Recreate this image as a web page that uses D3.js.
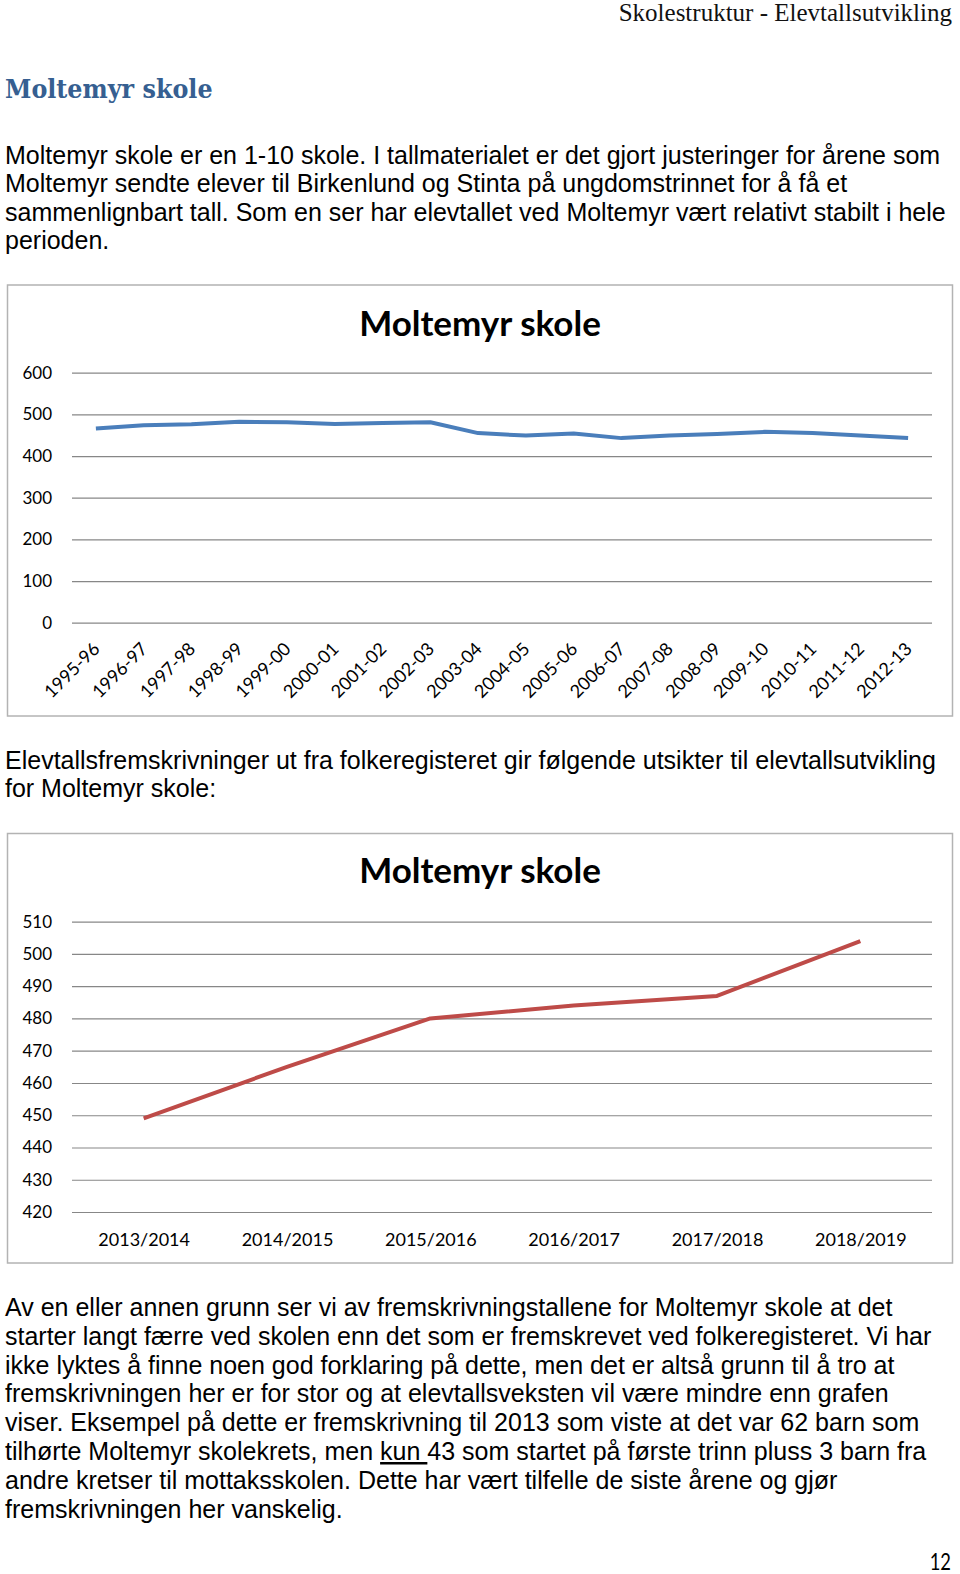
<!DOCTYPE html>
<html>
<head>
<meta charset="utf-8">
<script src="https://cdn.jsdelivr.net/npm/d3@7"></script>
<style>
  body { margin: 0; background: #fff; }
  svg { display: block; }
</style>
</head>
<body>
<div id="page"></div>
<script>
// Chart 1: historic pupil numbers
const seasons = ["1995-96", "1996-97", "1997-98", "1998-99", "1999-00", "2000-01", "2001-02", "2002-03", "2003-04",
    "2004-05", "2005-06", "2006-07", "2007-08", "2008-09", "2009-10", "2010-11", "2011-12", "2012-13"];
const pupils = [466, 474, 476, 482, 481, 477, 479, 481, 455, 449, 454, 443, 449, 453, 458, 455, 449, 443];
const yTicks1 = [0, 100, 200, 300, 400, 500, 600];

// Chart 2: projection from folkeregisteret
const years = ["2013/2014", "2014/2015", "2015/2016", "2016/2017", "2017/2018", "2018/2019"];
const projected = [449, 465, 480, 484, 487, 504];
const yTicks2 = [420, 430, 440, 450, 460, 470, 480, 490, 500, 510];

const para1 = [
    "Moltemyr skole er en 1-10 skole. I tallmaterialet er det gjort justeringer for årene som",
    "Moltemyr sendte elever til Birkenlund og Stinta på ungdomstrinnet for å få et",
    "sammenlignbart tall. Som en ser har elevtallet ved Moltemyr vært relativt stabilt i hele",
    "perioden."
];
const para2 = [
    "Elevtallsfremskrivninger ut fra folkeregisteret gir følgende utsikter til elevtallsutvikling",
    "for Moltemyr skole:"
];
const para3 = [
    "Av en eller annen grunn ser vi av fremskrivningstallene for Moltemyr skole at det",
    "starter langt færre ved skolen enn det som er fremskrevet ved folkeregisteret. Vi har",
    "ikke lyktes å finne noen god forklaring på dette, men det er altså grunn til å tro at",
    "fremskrivningen her er for stor og at elevtallsveksten vil være mindre enn grafen",
    "viser. Eksempel på dette er fremskrivning til 2013 som viste at det var 62 barn som",
    ["tilhørte Moltemyr skolekrets, men ", "kun ", "43 som startet på første trinn pluss 3 barn fra"],
    "andre kretser til mottaksskolen. Dette har vært tilfelle de siste årene og gjør",
    "fremskrivningen her vanskelig."
];

const W = 960, H = 1574;
const bodyFont = "'Liberation Sans', Arial, sans-serif";
const chartFont = "Lato, 'Open Sans', sans-serif";

const svg = d3.select("#page").append("svg")
    .attr("width", W)
    .attr("height", H);

// header + heading
svg.append("text")
    .attr("x", 952).attr("y", 20.5)
    .attr("text-anchor", "end")
    .style("font-family", "'Liberation Serif', 'Times New Roman', serif")
    .style("font-size", "25px")
    .style("fill", "#111")
    .text("Skolestruktur - Elevtallsutvikling");

svg.append("text")
    .attr("x", 5).attr("y", 97.5)
    .style("font-family", "'DejaVu Serif', serif")
    .style("font-stretch", "condensed")
    .style("font-weight", "bold")
    .style("font-size", "26.5px")
    .style("fill", "#365F91")
    .text("Moltemyr skole");

function paragraph(lines, y0, step) {
    lines.forEach((line, i) => {
        const t = svg.append("text")
            .attr("x", 5).attr("y", y0 + i * step)
            .style("font-family", bodyFont)
            .style("font-size", "25px")
            .style("fill", "#000");
        if (Array.isArray(line)) {
            line.forEach((part, j) => {
                const ts = t.append("tspan").text(part);
                if (j === 1) ts.attr("text-decoration", "underline");
            });
        } else {
            t.text(line);
        }
    });
}

paragraph(para1, 163.5, 28.5);
paragraph(para2, 768.5, 28.5);
paragraph(para3, 1316, 28.8);

// page number (narrow sans)
svg.append("text")
    .attr("transform", "translate(951,1570) scale(0.8,1)")
    .attr("text-anchor", "end")
    .style("font-family", chartFont)
    .style("font-size", "23px")
    .text("12");

// shared chart frame
function frame(top, bottom, titleY) {
    svg.append("rect")
        .attr("x", 7.5).attr("y", top)
        .attr("width", 945).attr("height", bottom - top)
        .attr("fill", "#fff")
        .attr("stroke", "#b3b3b3")
        .attr("stroke-width", 1.5);

    svg.append("text")
        .attr("x", 480).attr("y", titleY)
        .attr("text-anchor", "middle")
        .style("font-family", chartFont)
        .style("font-weight", "bold")
        .style("font-size", "35px")
        .style("fill", "#000")
        .text("Moltemyr skole");
}

function gridAxis(y, ticks) {
    const g = svg.append("g")
        .attr("transform", "translate(72,0)")
        .call(d3.axisLeft(y).tickValues(ticks).tickSize(-860).tickPadding(20).tickFormat(d3.format("d")));
    g.select(".domain").remove();
    g.selectAll(".tick line").attr("stroke", "#878787").attr("stroke-width", 1.2);
    g.selectAll(".tick text")
        .style("font-family", chartFont)
        .style("font-size", "17px")
        .style("fill", "#000");
    return g;
}

// ---- Chart 1 ----
frame(285, 716, 336);

const x1 = d3.scalePoint().domain(seasons).range([72, 932]).padding(0.5);
const y1 = d3.scaleLinear().domain([0, 600]).range([622.7, 372.7]);

gridAxis(y1, yTicks1);

svg.append("g")
    .selectAll("text")
    .data(seasons)
    .join("text")
    .attr("transform", d => `translate(${x1(d) + 5},650) rotate(-45)`)
    .attr("text-anchor", "end")
    .style("font-family", chartFont)
    .style("font-size", "18px")
    .style("fill", "#000")
    .text(d => d);

svg.append("path")
    .datum(pupils)
    .attr("fill", "none")
    .attr("stroke", "#4A7EBB")
    .attr("stroke-width", 4)
    .attr("stroke-linejoin", "round")
    .attr("d", d3.line().x((d, i) => x1(seasons[i])).y(d => y1(d)));

// ---- Chart 2 ----
frame(833.5, 1263, 883);

const x2 = d3.scalePoint().domain(years).range([72, 932]).padding(0.5);
const y2 = d3.scaleLinear().domain([420, 510]).range([1212, 921.7]);

gridAxis(y2, yTicks2);

const xa = svg.append("g")
    .attr("transform", "translate(0,1212)")
    .call(d3.axisBottom(x2).tickSize(0).tickPadding(21));
xa.select(".domain").remove();
xa.selectAll(".tick text")
    .style("font-family", chartFont)
    .style("font-size", "18px")
    .style("fill", "#000");

svg.append("path")
    .datum(projected)
    .attr("fill", "none")
    .attr("stroke", "#BE4B48")
    .attr("stroke-width", 4)
    .attr("stroke-linejoin", "round")
    .attr("d", d3.line().x((d, i) => x2(years[i])).y(d => y2(d)));
</script>
</body>
</html>
